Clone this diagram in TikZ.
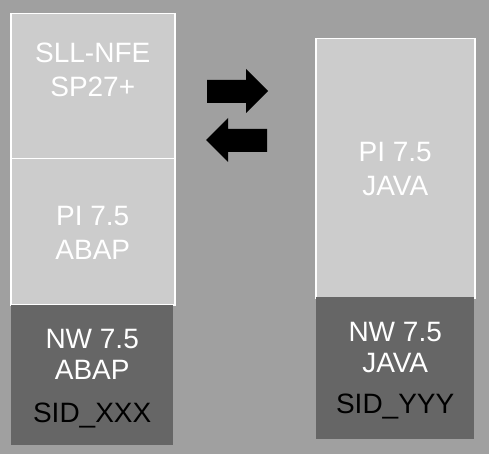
\documentclass[tikz,border=0pt]{standalone}
\usepackage{fontspec}
\setmainfont{Liberation Sans}
\usetikzlibrary{positioning}
\definecolor{mybg}{RGB}{160,160,160}
\definecolor{mylight}{RGB}{204,204,204}
\definecolor{mydark}{RGB}{102,102,102}
\newcommand{\widthcol}{164pt}
\newcommand{\widthcolr}{159pt}
\tikzset{
    common/.style={anchor=north west, rectangle, inner sep=0pt},
    light/.style={common, fill=mylight, draw=white, line width=1.5pt},
    dark/.style={common, fill=mydark},
    txt/.style={text=white, align=center, inner sep=0pt, anchor=base, font=\fontsize{28}{34}\selectfont},
    txtsid/.style={txt, text=black},
    arrowshape/.style={fill=black}
}
\begin{document}
\begin{tikzpicture}[x=1pt, y=-1pt]
            \fill[mybg] (0,0) rectangle (489,454);
            \useasboundingbox (0,0) rectangle (489,454);

            % left stack
            \node[light, minimum width=\widthcol, minimum height=145pt] (sll) at (10,13) {};
            \node[light, minimum width=\widthcol, minimum height=146pt] (pia) at (10,158) {};
            \node[dark, minimum width=162pt, minimum height=140pt] (nwa) at (11,305) {};

            % right stack
            \node[light, minimum width=\widthcolr, minimum height=259pt] (pij) at (315,38) {};
            \node[dark, minimum width=158pt, minimum height=142pt] (nwj) at (316,297) {};

            \node[txt] (sllt) at ([yshift=-84pt]sll.north) {SLL-NFE\\SP27+};
            \node[txt] (piat) at ([yshift=-101pt]pia.north) {PI 7.5\\ABAP};
            \node[txt, font=\fontsize{28}{31}\selectfont] (nwat) at ([yshift=-74pt]nwa.north) {NW 7.5\\ABAP};
            \node[txtsid] (sida) at ([yshift=-117pt]nwa.north) {SID\_XXX};
            \node[txt] (pijt) at ([yshift=-158pt]pij.north) {PI 7.5\\JAVA};
            \node[txt, font=\fontsize{28}{31}\selectfont] (nwjt) at ([yshift=-75pt]nwj.north) {NW 7.5\\JAVA};
            \node[txtsid] (sidj) at ([yshift=-116pt]nwj.north) {SID\_YYY};

            % exchange arrows
            \fill[arrowshape] (207,80) -- (246,80) -- (246,69) -- (268,91) -- (246,113) -- (246,103) -- (207,103) -- cycle;
            \fill[arrowshape] (267,129) -- (228,129) -- (228,118) -- (206,140) -- (228,162) -- (228,152) -- (267,152) -- cycle;
        \end{tikzpicture}
\end{document}
